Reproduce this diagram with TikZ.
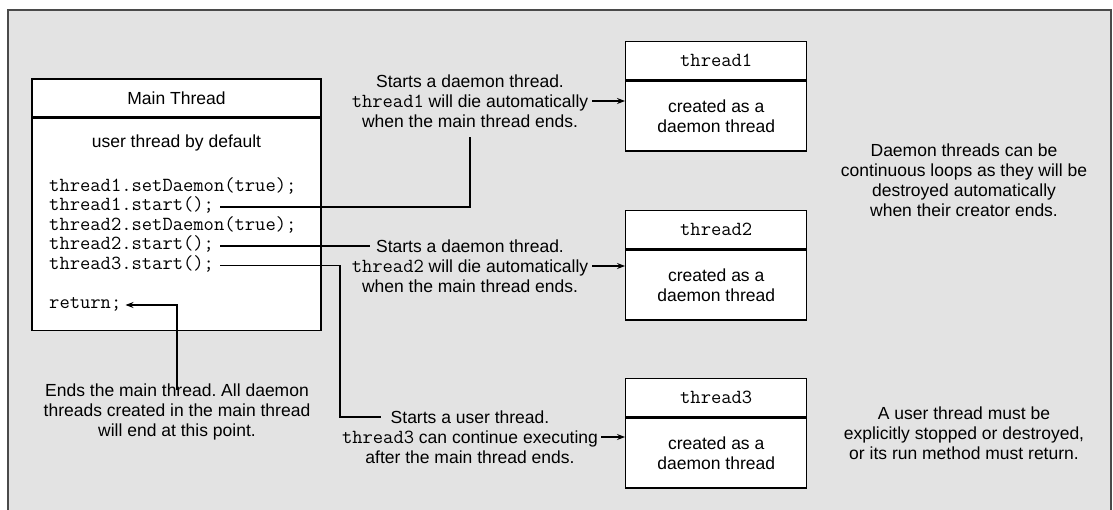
\documentclass[tikz,border=0pt]{standalone}
\usepackage{fontspec}
\setmainfont{Liberation Sans}
\usetikzlibrary{arrows.meta}
\definecolor{bgc}{HTML}{E3E3E3}
\definecolor{framec}{HTML}{4A4A4A}
\newcommand{\cf}{\ttfamily\fontsize{20}{20}\selectfont}
\begin{document}
\frenchspacing
\begin{tikzpicture}[x=1pt,y=-1pt,
  lbl/.style={font=\fontsize{17.5}{20}\selectfont, align=center, inner sep=0pt},
  code/.style={font=\cf, anchor=west, inner sep=0pt, text height=12pt, text depth=4pt},
  boxpart/.style={draw=black, fill=white, line width=1.4pt, inner sep=0pt},
  conn/.style={line width=1.2pt},
  arr/.style={conn, -{Stealth[length=8pt,width=6pt]}}]
\useasboundingbox (0,0) rectangle (1113,510);
\fill[white] (0,0) rectangle (1113,510);
\fill[bgc] (8,10) rectangle (1111,510);
\draw[framec, line width=2pt] (8,510) -- (8,10) -- (1111,10) -- (1111,510);

% main thread box
\node[boxpart, lbl, minimum width=289pt, minimum height=38pt] (mainhead) at (176.5,98) {Main Thread};
\node[boxpart, minimum width=289pt, minimum height=212pt, anchor=north] (mainbody) at (mainhead.south) {};
\node[lbl] (userdef) at (176.5,143) {user thread by default};
\node[code] (c1) at (49,188) {thread1.setDaemon(true);};
\node[code] (c2) at (49,207) {thread1.start();};
\node[code] (c3) at (49,226.5) {thread2.setDaemon(true);};
\node[code] (c4) at (49,246) {thread2.start();};
\node[code] (c5) at (49,265.5) {thread3.start();};
\node[code] (ret) at (49,305) {return;};

% thread boxes
\foreach \n/\y in {1/41,2/210,3/378}{
  \node[boxpart, minimum width=181pt, minimum height=38pt, anchor=north west, font=\cf] (th\n head) at (625,\y) {thread\n};
  \node[boxpart, minimum width=181pt, minimum height=70pt, anchor=north west] (th\n body) at (th\n head.south west) {};
  \node[lbl, font=\fontsize{17.5}{19.5}\selectfont] (th\n txt) at (th\n body.center) {created as a\\daemon thread};
}

% explanation texts
\node[lbl] (t1text) at (470,101) {Starts a daemon thread.\\{\cf thread1} will die automatically\\when the main thread ends.};
\node[lbl] (t2text) at (470,266) {Starts a daemon thread.\\{\cf thread2} will die automatically\\when the main thread ends.};
\node[lbl] (t3text) at (470,437) {Starts a user thread.\\{\cf thread3} can continue executing\\after the main thread ends.};
\node[lbl] (ends) at (177,412) {Ends the main thread. All daemon\\threads created in the main thread\\will end at this point.};
\node[lbl] (note1) at (964,180) {Daemon threads can be\\continuous loops as they will be\\destroyed automatically\\when their creator ends.};
\node[lbl] (note2) at (964,433) {A user thread must be\\explicitly stopped or destroyed,\\or its run method must return.};

\coordinate (t2in) at (370,246);
\coordinate (t3in) at (381,417);
\coordinate (t3bend) at (340,417);

% connectors
\draw[conn] ([xshift=6pt]c2.east) -| ([yshift=-9pt]t1text.south);
\draw[arr] ([xshift=4pt]t1text.east) -- (t1text.east -| th1body.west);
\draw[conn] ([xshift=6pt]c4.east) -- (t2in);
\draw[arr] ([xshift=4pt]t2text.east) -- (t2text.east -| th2body.west);
\draw[conn] ([xshift=6pt]c5.east) -| (t3bend) -- (t3in);
\draw[arr] ([xshift=3pt]t3text.east) -- (t3text.east -| th3body.west);
\draw[arr] ([yshift=-6pt]ends.north) |- ([xshift=4pt]ret.east);
\end{tikzpicture}
\end{document}
